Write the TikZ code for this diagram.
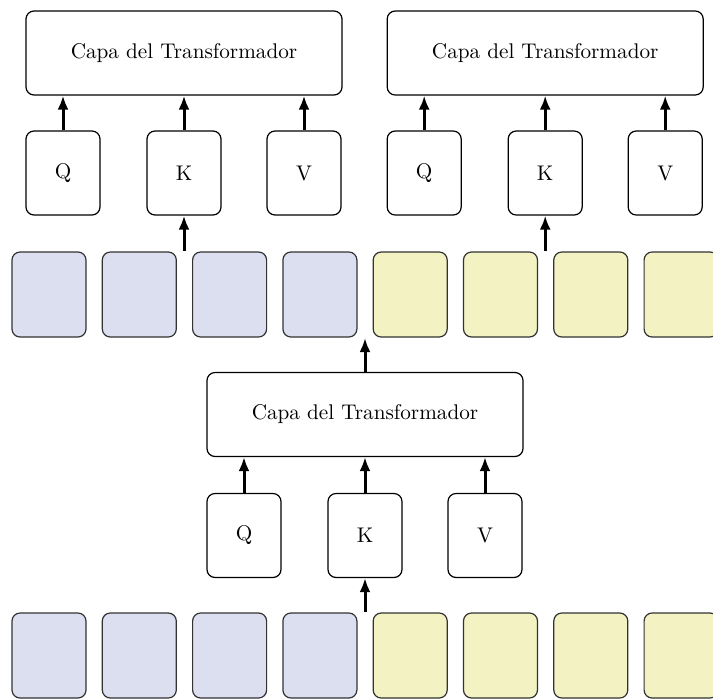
\documentclass[tikz,border=0pt]{standalone}
\usetikzlibrary{arrows.meta}
\definecolor{tokblue}{RGB}{220,223,240}
\definecolor{tokyellow}{RGB}{242,242,194}
\begin{document}
\begin{tikzpicture}[x=0.5pt,y=-0.5pt,
  font=\fontsize{10.6}{12.5}\selectfont,
  box/.style={draw=black, line width=0.6pt, rounded corners=4pt, inner sep=0pt, fill=white},
  layerbox/.style={box, minimum width=158pt, minimum height=42pt},
  qkv/.style={box, minimum width=37pt, minimum height=42pt},
  tokb/.style={box, fill=tokblue, draw=black!80, minimum width=37pt, minimum height=42.5pt},
  toky/.style={box, fill=tokyellow, draw=black!80, minimum width=37pt, minimum height=42.5pt},
  arr/.style={line width=1.5pt, -{Latex[length=7pt,width=5.5pt]}}
]
\useasboundingbox (0,0) rectangle (713,698);

% top row of tokens
\foreach \i in {0,...,3} {
  \node[tokb] (ta\i) at ({49+90.3*\i},294.5) {};
}
\foreach \i in {4,...,7} {
  \node[toky] (ta\i) at ({49+90.3*\i},294.5) {};
}
% bottom row of tokens
\foreach \i in {0,...,3} {
  \node[tokb] (tb\i) at ({49+90.3*\i},655.5) {};
}
\foreach \i in {4,...,7} {
  \node[toky] (tb\i) at ({49+90.3*\i},655.5) {};
}

% top-left group
\node[layerbox] (L1) at (184,53) {Capa del Transformador};
\node[qkv] (Q1) at (63,173) {Q};
\node[qkv] (K1) at (184,173) {K};
\node[qkv] (V1) at (304,173) {V};
\coordinate (s1) at (184,251);
\draw[arr] (Q1) -- (Q1 |- L1.south);
\draw[arr] (K1) -- (L1);
\draw[arr] (V1) -- (V1 |- L1.south);
\draw[arr] (s1) -- (K1);

% top-right group
\node[layerbox] (L2) at (545.2,53) {Capa del Transformador};
\node[qkv] (Q2) at (424.2,173) {Q};
\node[qkv] (K2) at (545.2,173) {K};
\node[qkv] (V2) at (665.2,173) {V};
\coordinate (s2) at (545.2,251);
\draw[arr] (Q2) -- (Q2 |- L2.south);
\draw[arr] (K2) -- (L2);
\draw[arr] (V2) -- (V2 |- L2.south);
\draw[arr] (s2) -- (K2);

% bottom group
\node[layerbox] (L3) at (365,414.5) {Capa del Transformador};
\node[qkv] (Q3) at (244,535.5) {Q};
\node[qkv] (K3) at (365,535.5) {K};
\node[qkv] (V3) at (485,535.5) {V};
\coordinate (s3) at (365,612);
\coordinate (e3) at (365,338);
\draw[arr] (Q3) -- (Q3 |- L3.south);
\draw[arr] (K3) -- (L3);
\draw[arr] (V3) -- (V3 |- L3.south);
\draw[arr] (s3) -- (K3);
\draw[arr] (L3) -- (e3);
\end{tikzpicture}
\end{document}
